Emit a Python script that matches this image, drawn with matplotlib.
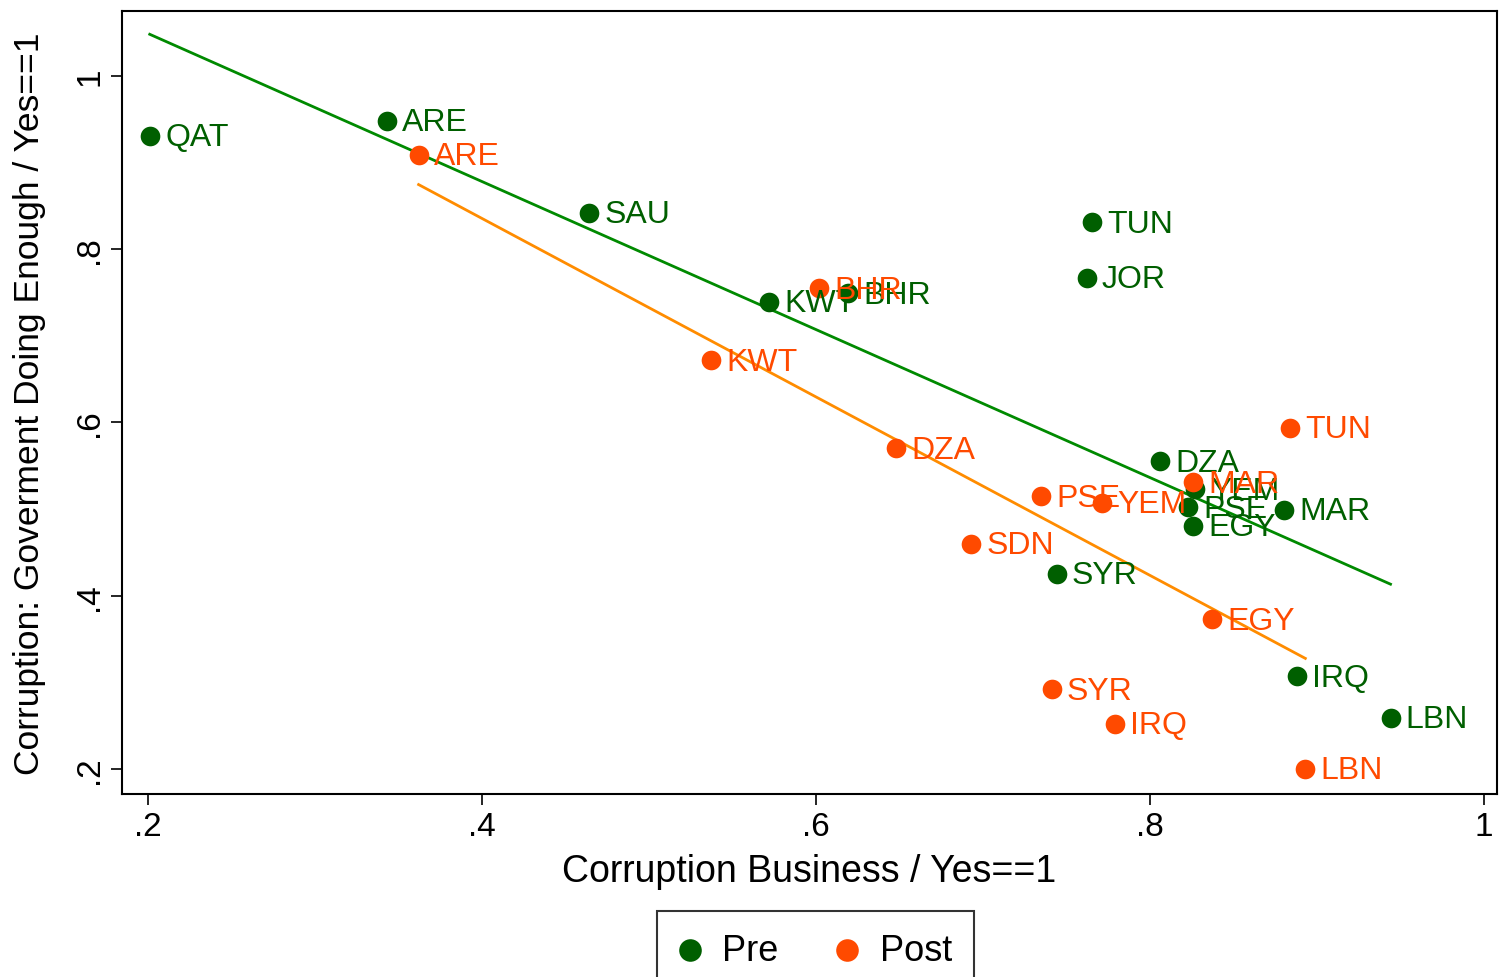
import numpy as np
import matplotlib.pyplot as plt

plt.rcParams['font.family'] = ['Liberation Sans', 'DejaVu Sans']

# Pre-period country means
pre_country = ['QAT', 'ARE', 'SAU', 'KWT', 'BHR', 'TUN', 'JOR', 'DZA', 'YEM', 'PSE', 'EGY', 'MAR', 'SYR', 'IRQ', 'LBN']
pre_business = [0.201, 0.343, 0.464, 0.572, 0.619, 0.765, 0.762, 0.806, 0.827, 0.823, 0.826, 0.880, 0.744, 0.888, 0.944]
pre_govt = [0.931, 0.948, 0.842, 0.739, 0.749, 0.831, 0.767, 0.555, 0.523, 0.502, 0.481, 0.499, 0.425, 0.307, 0.259]

# Post-period country means
post_country = ['ARE', 'BHR', 'KWT', 'DZA', 'TUN', 'MAR', 'PSE', 'YEM', 'SDN', 'EGY', 'SYR', 'IRQ', 'LBN']
post_business = [0.362, 0.602, 0.537, 0.648, 0.884, 0.826, 0.735, 0.771, 0.693, 0.837, 0.741, 0.779, 0.893]
post_govt = [0.909, 0.755, 0.672, 0.570, 0.594, 0.531, 0.515, 0.507, 0.460, 0.373, 0.292, 0.252, 0.200]

x_ticks = [0.2, 0.4, 0.6, 0.8, 1.0]
x_labels = ['.2', '.4', '.6', '.8', '1']
y_ticks = [0.2, 0.4, 0.6, 0.8, 1.0]
y_labels = ['.2', '.4', '.6', '.8', '1']

green_dot = '#005f00'
green_line = '#008a00'
orange_dot = '#ff4a00'
orange_line = '#ff8c00'

fig = plt.figure(figsize=(14.99, 9.78), dpi=100)
ax = fig.add_axes([0.0814, 0.187, 0.9173, 0.8007])


def draw_group(xs, ys, names, dot_col, line_col, label):
    xs = np.array(xs)
    ys = np.array(ys)
    ax.scatter(xs, ys, s=200, color=dot_col, zorder=3, label=label, linewidths=0)
    for x, y, n in zip(xs, ys, names):
        ax.annotate(n, (x, y), xytext=(11, -1), textcoords='offset points',
                    va='center', ha='left', fontsize=23, color=dot_col, zorder=4)
    b, a = np.polyfit(xs, ys, 1)
    lx = np.array([xs.min(), xs.max()])
    ax.plot(lx, a + b * lx, color=line_col, lw=2, zorder=2)


draw_group(pre_business, pre_govt, pre_country, green_dot, green_line, 'Pre')
draw_group(post_business, post_govt, post_country, orange_dot, orange_line, 'Post')

ax.set_xlim(0.1844, 1.0078)
ax.set_ylim(0.171, 1.075)
ax.set_xticks(x_ticks)
ax.set_xticklabels(x_labels)
ax.set_yticks(y_ticks)
ax.set_yticklabels(y_labels, rotation=90, va='center')
ax.tick_params(direction='out', length=8, width=1.2, labelsize=24, pad=4)
for s in ax.spines.values():
    s.set_linewidth(1.5)

ax.set_xlabel('Corruption Business / Yes==1', fontsize=27, labelpad=8)
ax.set_ylabel('Corruption: Goverment Doing Enough / Yes==1', fontsize=25.5)
ax.yaxis.set_label_coords(-0.055, 0.5)

leg = fig.legend(loc='upper center', bbox_to_anchor=(0.544, 1 - 912 / 978), ncol=2,
                 fontsize=26, frameon=True, fancybox=False, edgecolor='black',
                 handletextpad=0.6, columnspacing=1.6, borderpad=0.6,
                 borderaxespad=0, markerscale=1.15, handlelength=0.6)
leg.get_frame().set_linewidth(1.5)

fig.savefig('out.png', dpi=100)
